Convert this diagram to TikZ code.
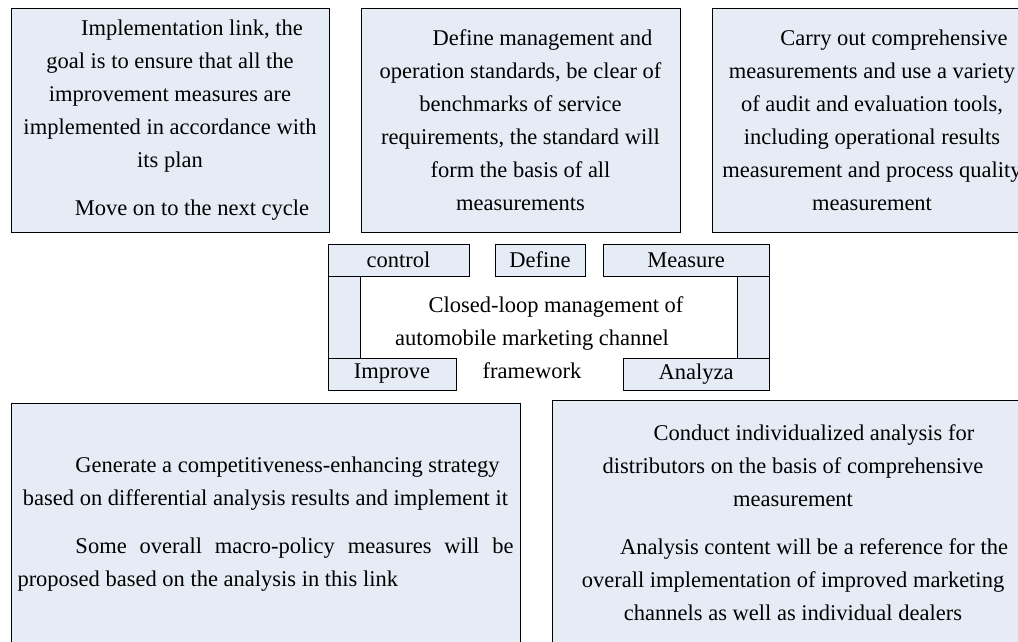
\documentclass[tikz,border=0pt]{standalone}
\usepackage{fontspec}
\setmainfont{Liberation Serif}
\usepackage{xcolor}
\usepackage{tikz}
\definecolor{boxfill}{RGB}{230,236,246}

\begin{document}
\begin{tikzpicture}[x=1pt,y=-1pt,
	every node/.style={font=\fontsize{22.5pt}{33pt}\selectfont,inner sep=0pt},
	textbox/.style={draw=black,line width=0.8pt,fill=boxfill,align=center,minimum height=#1},
	textbox/.default=224pt,
	stagebox/.style={draw=black,line width=0.8pt,fill=boxfill,minimum height=32pt},
	barbox/.style={draw=black,line width=0.8pt,fill=boxfill,minimum width=32pt,minimum height=82pt}]
	\useasboundingbox (0,0) rectangle (1018,641);
	\clip (0,0) rectangle (1018,641);
	% upper row of boxes
	\node[textbox,minimum width=318pt] (implement) at (170,120) {\hspace*{44pt}Implementation link, the\\ goal is to ensure that all the\\ improvement measures are\\ implemented in accordance with\\ its plan\\[15pt] \hspace*{44pt}Move on to the next cycle};
	\node[textbox,minimum width=319pt] (define) at (520.5,120) {\hspace*{44pt}Define management and\\ operation standards, be clear of\\ benchmarks of service\\ requirements, the standard will\\ form the basis of all\\ measurements};
	\node[textbox,minimum width=320pt] (measure) at (872,120) {\hspace*{44pt}Carry out comprehensive\\ measurements and use a variety\\ of audit and evaluation tools,\\ including operational results\\ measurement and process quality\\ measurement};
	% closed loop frame
	\node[barbox] (leftbar) at (344.5,317) {};
	\node[barbox] (rightbar) at (753,317) {};
	\node[stagebox,minimum width=141pt] (control) at (398.5,260) {control};
	\node[stagebox,minimum width=90pt] (definestage) at (540,260) {Define};
	\node[stagebox,minimum width=166pt] (measurestage) at (686,260) {Measure};
	\node[stagebox,minimum width=128pt] (improve) at (392,374) {Improve};
	\node[stagebox,minimum width=146pt] (analyza) at (696,374) {Analyza};
	\node[align=center] (loop) at (532,338) {\hspace*{48pt}Closed-loop management of\\ automobile marketing channel\\ framework};
	% lower row of boxes
	\node[textbox=242pt,minimum width=509pt] (strategy) at (265.5,524) {\hspace*{44pt}Generate a competitiveness-enhancing strategy\\ based on differential analysis results and implement it\\[15pt] \hspace*{58pt}\makebox[438pt][s]{Some overall macro-policy measures will be}\\ \makebox[496pt][l]{proposed based on the analysis in this link}};
	\node[textbox=245pt,minimum width=482pt] (analysis) at (793,522.5) {\hspace*{42pt}Conduct individualized analysis for\\ distributors on the basis of comprehensive\\ measurement\\[15pt] \hspace*{42pt}Analysis content will be a reference for the\\ overall implementation of improved marketing\\ channels as well as individual dealers};
\end{tikzpicture}
\end{document}
